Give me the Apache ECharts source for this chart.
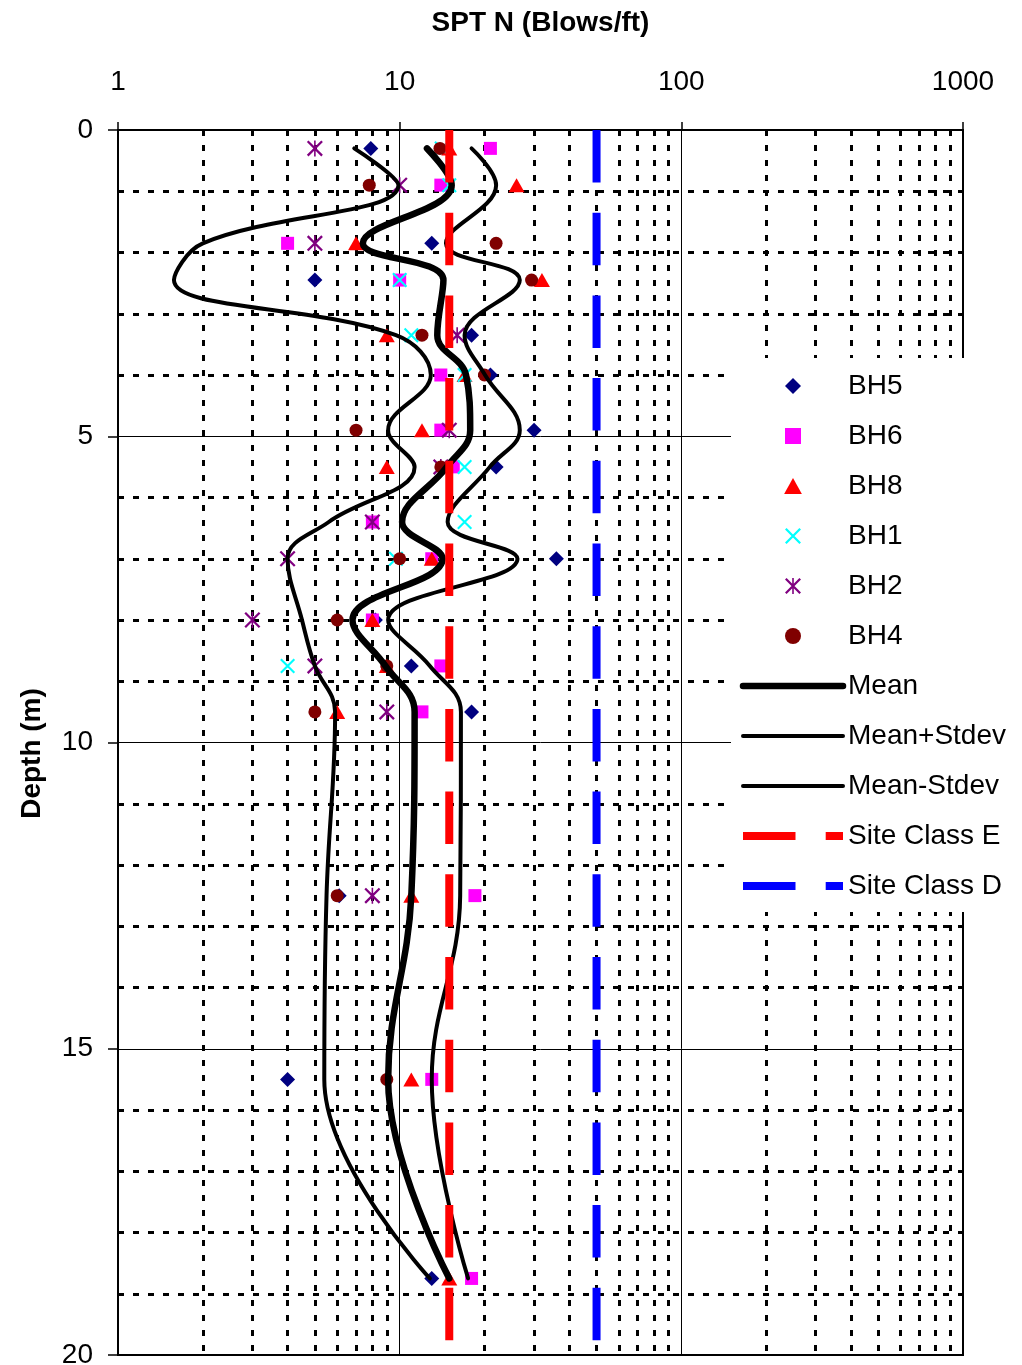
<!DOCTYPE html>
<html>
<head>
<meta charset="utf-8">
<title>SPT N vs Depth</title>
<script src="https://cdn.jsdelivr.net/npm/echarts/dist/echarts.min.js"></script>
<style>
  html, body { margin: 0; padding: 0; background: #fff; }
  #chart { width: 1022px; height: 1365px; }
</style>
</head>
<body>
<div id="chart"></div>
<script>
// sample depths (m), shared by all borehole and statistic series
const depths = [0.3, 0.9, 1.85, 2.45, 3.35, 4.0, 4.9, 5.5, 6.4, 7.0, 8.0, 8.75, 9.5, 12.5, 15.5, 18.75]

// SPT N per borehole (null = no test at that depth)
const bh5 = [7.9, null, 13, 5, 18, 21, 30, 22, null, 36, 8.2, 11, 18, 6.1, 4, 13]
const bh6 = [21, 14, 4, 10, null, 14, 14, 15.5, 8, 13, 8, 14, 12, 18.5, 13, 18]
const bh8 = [15, 26, 7, 32, 9, 17, 12, 9, null, 13, 8, 9, 6, 11, 11, 15]
const bh1 = [14.1, 15, null, 10, 11, 17, null, 17, 17, 9.7, null, 4, null, null, null, null]
const bh2 = [5, 10, 5, null, 16, null, 15, 14, 8, 4, 3, 5, 9, 8, null, null]
const bh4 = [13.9, 7.8, 22, 29.4, 12, 20, 7, 14, null, 10, 6, 9, 5, 6, 9, null]

// statistics
const meanN = [12.5, 15.3, 7.4, 14.3, 13.6, 17.2, 17.8, 14.7, 10.2, 14.2, 6.8, 8.9, 11.3, 11.0, 9.1, 15.0]
const plusN = [18.0, 22.0, 14.6, 26.7, 17.0, 20.1, 26.7, 20.9, 14.8, 26.2, 9.1, 12.8, 16.5, 16.4, 13.0, 17.5]
const minusN = [6.9, 9.9, 2.0, 1.58, 9.7, 12.9, 9.1, 11.3, 5.6, 4.0, 4.5, 5.0, 5.9, 5.5, 5.4, 12.8]

// site class limits
const siteClassE = 15
const siteClassD = 50
const depthRange = [0, 20]

// minor gridlines of the log axis
const minorN = [2, 3, 4, 5, 6, 7, 8, 9, 20, 30, 40, 50, 60, 70, 80, 90, 200, 300, 400, 500, 600, 700, 800, 900]

const FONT = 'Liberation Sans, Arial, sans-serif'

// marker shapes
const diamondPath = 'path://M10,0L20,10L10,20L0,10Z'
const squarePath = 'path://M0,0L20,0L20,20L0,20Z'
const trianglePath = 'path://M10,0L20,18L0,18Z'
const crossPath = 'path://M0,2L2,0L20,18L18,20Z M18,0L20,2L2,20L0,18Z'
const starPath = crossPath + ' M9,0L11,0L11,20L9,20Z'

const toPoints = (values) =>
  values.map((v, i) => (v == null ? null : [v, depths[i]])).filter(Boolean)

const boreholeSeries = (name, values, symbol, size, color) => ({
  name,
  type: 'scatter',
  symbol,
  symbolSize: size,
  itemStyle: { color, opacity: 1 },
  data: toPoints(values)
})

const curveSeries = (name, values, width) => ({
  name,
  type: 'line',
  smooth: 0.4,
  symbol: 'none',
  lineStyle: { color: '#000', width, cap: 'round', join: 'round' },
  data: toPoints(values)
})

const siteSeries = (name, n, color) => ({
  name,
  type: 'line',
  symbol: 'none',
  lineStyle: { color, width: 8, type: [52.5, 30.2], cap: 'butt' },
  data: depthRange.map(d => [n, d])
})

const chart = echarts.init(document.getElementById('chart'))

const hiddenDot = { opacity: 0, borderWidth: 0 }

const option = {
  animation: false,
  backgroundColor: '#fff',
  grid: {
    left: 118, right: 59, top: 130, bottom: 10,
    containLabel: false,
    outerBoundsMode: 'none',
    show: true, borderColor: '#000', borderWidth: 2
  },
  legend: {
    orient: 'vertical',
    left: 731,
    top: 358,
    padding: [14, 10, 12, 8],
    backgroundColor: '#fff',
    itemWidth: 100,
    itemHeight: 16,
    itemGap: 22,
    textStyle: { fontFamily: FONT, fontSize: 28, color: '#000' },
    lineStyle: { width: 'inherit', type: 'inherit' },
    data: [
      { name: 'BH5', icon: diamondPath },
      { name: 'BH6', icon: squarePath },
      { name: 'BH8', icon: trianglePath },
      { name: 'BH1', icon: crossPath },
      { name: 'BH2', icon: starPath },
      { name: 'BH4', icon: 'circle' },
      { name: 'Mean', itemStyle: hiddenDot },
      { name: 'Mean+Stdev', itemStyle: hiddenDot },
      { name: 'Mean-Stdev', itemStyle: hiddenDot },
      { name: 'Site Class E', itemStyle: hiddenDot },
      { name: 'Site Class D', itemStyle: hiddenDot }
    ]
  },
  xAxis: {
    type: 'log',
    logBase: 10,
    min: 1,
    max: 1000,
    position: 'top',
    name: 'SPT N (Blows/ft)',
    nameLocation: 'middle',
    nameGap: 93,
    nameTextStyle: { fontFamily: FONT, fontSize: 28, fontWeight: 'bold', color: '#000' },
    axisLine: { show: true, onZero: false, lineStyle: { color: '#000', width: 2 } },
    axisTick: { show: true, inside: false, length: 8, lineStyle: { color: '#000', width: 1.5 } },
    axisLabel: {
      margin: 34, fontFamily: FONT, fontSize: 28, color: '#000',
      showMinLabel: true, showMaxLabel: true,
      formatter: v => String(Math.round(v))
    },
    splitLine: { show: true, lineStyle: { color: '#000', width: 1 } },
    minorTick: { show: false },
    minorSplitLine: { show: false }
  },
  yAxis: {
    type: 'value',
    inverse: true,
    min: 0,
    max: 20,
    interval: 5,
    name: 'Depth (m)',
    nameLocation: 'middle',
    nameGap: 72,
    nameTextStyle: { fontFamily: FONT, fontSize: 28, fontWeight: 'bold', color: '#000', padding: [0, 22, 0, 0] },
    axisLine: { show: true, onZero: false, lineStyle: { color: '#000', width: 2 } },
    axisTick: { show: true, length: 10, lineStyle: { color: '#000', width: 1.5 } },
    axisLabel: {
      margin: 25, fontFamily: FONT, fontSize: 28, color: '#000',
      showMinLabel: true, showMaxLabel: true
    },
    splitLine: { show: true, lineStyle: { color: '#000', width: 1 } },
    minorTick: { show: false, splitNumber: 5 },
    minorSplitLine: { show: true, lineStyle: { color: '#000', width: 3, type: [6, 9] } }
  },
  series: [
    {
      // carries the dotted log gridlines only
      name: 'grid',
      type: 'line',
      data: [],
      silent: true,
      markLine: {
        z: 1,
        silent: true,
        animation: false,
        symbol: ['none', 'none'],
        label: { show: false },
        lineStyle: { color: '#000', width: 3, type: [6, 9] },
        emphasis: { disabled: true },
        data: minorN.map(n => ({ xAxis: n }))
      }
    },
    boreholeSeries('BH5', bh5, 'diamond', 15, '#000080'),
    boreholeSeries('BH6', bh6, 'rect', 13, '#ff00ff'),
    boreholeSeries('BH8', bh8, 'triangle', [16, 14], '#ff0000'),
    boreholeSeries('BH1', bh1, crossPath, 15, '#00ffff'),
    boreholeSeries('BH2', bh2, starPath, 16, '#800080'),
    boreholeSeries('BH4', bh4, 'circle', 13, '#800000'),
    curveSeries('Mean', meanN, 6.5),
    curveSeries('Mean+Stdev', plusN, 4),
    curveSeries('Mean-Stdev', minusN, 4),
    siteSeries('Site Class E', siteClassE, '#ff0000'),
    siteSeries('Site Class D', siteClassD, '#0000ff')
  ]
}

chart.setOption(option)
</script>
</body>
</html>
